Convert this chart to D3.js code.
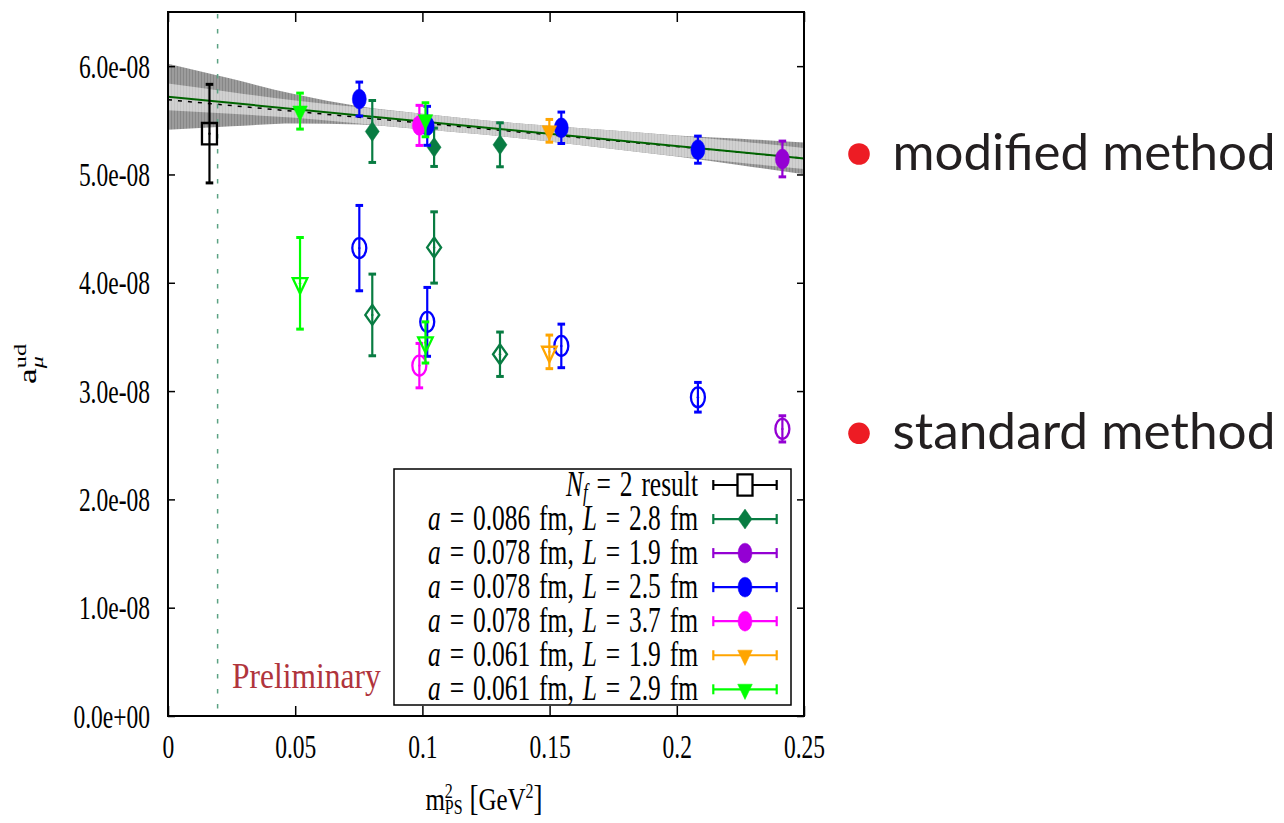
<!DOCTYPE html>
<html>
<head>
<meta charset="utf-8">
<script src="https://cdn.jsdelivr.net/npm/d3@7"></script>
<style>
  body { margin: 0; background: #fff; }
  svg { display: block; }
</style>
</head>
<body>
<script>
"use strict";

// a_mu^ud values in units of 1e-8, points are [m_PS^2, value, error]
const nf2_result   = [[0.0163, 5.377, 0.455]];

const a086_L28_mod = [[0.0803, 5.397, 0.286], [0.1046, 5.251, 0.177], [0.1305, 5.274, 0.203]];
const a086_L28_std = [[0.0803, 3.703, 0.377], [0.1046, 4.326, 0.329], [0.1305, 3.340, 0.205]];
const a078_L19_mod = [[0.2415, 5.143, 0.165]];
const a078_L19_std = [[0.2415, 2.651, 0.121]];
const a078_L25_mod = [[0.0752, 5.696, 0.157], [0.1019, 5.449, 0.180], [0.1546, 5.431, 0.145], [0.2083, 5.229, 0.125]];
const a078_L25_std = [[0.0752, 4.320, 0.394], [0.1019, 3.639, 0.318], [0.1546, 3.417, 0.201], [0.2083, 2.943, 0.137]];
const a078_L37_mod = [[0.0988, 5.453, 0.185]];
const a078_L37_std = [[0.0988, 3.235, 0.205]];
const a061_L19_mod = [[0.1499, 5.403, 0.105]];
const a061_L19_std = [[0.1499, 3.362, 0.155]];
const a061_L29_mod = [[0.0519, 5.585, 0.166], [0.1012, 5.505, 0.157]];
const a061_L29_std = [[0.0519, 3.995, 0.423], [0.1012, 3.449, 0.190]];

// chiral fit and its error bands
const fit_line   = [[0, 5.717], [0.25, 5.148]];
const fit_line_2 = [[0, 5.690], [0.25, 5.150]];
const band_x           = [0, 0.025, 0.05, 0.075, 0.1, 0.125, 0.15, 0.175, 0.2, 0.225, 0.25];
const band_outer_upper = [6.022, 5.883, 5.740, 5.630, 5.561, 5.498, 5.450, 5.405, 5.360, 5.330, 5.294];
const band_outer_lower = [5.412, 5.445, 5.470, 5.461, 5.417, 5.366, 5.305, 5.235, 5.165, 5.085, 5.002];
const band_inner_upper = [5.840, 5.760, 5.683, 5.620, 5.561, 5.498, 5.450, 5.405, 5.358, 5.305, 5.245];
const band_inner_lower = [5.594, 5.560, 5.523, 5.470, 5.417, 5.366, 5.305, 5.235, 5.167, 5.108, 5.051];
const physical_point = 0.0195;

const x_ticks = [0, 0.05, 0.1, 0.15, 0.2, 0.25];
const x_tick_labels = ["0", "0.05", "0.1", "0.15", "0.2", "0.25"];
const y_ticks = [0, 1, 2, 3, 4, 5, 6];
const y_tick_labels = ["0.0e+00", "1.0e-08", "2.0e-08", "3.0e-08", "4.0e-08", "5.0e-08", "6.0e-08"];

const legend_a = ["0.086", "0.078", "0.078", "0.078", "0.061", "0.061"];
const legend_L = ["2.8", "1.9", "2.5", "3.7", "1.9", "2.9"];
const method_labels = ["modified method", "standard method"];

// styles
const colors = ["#000000", "#087c42", "#9400d3", "#0000ff", "#ff00ff", "#ffa500", "#00ff00"];
const shapes = ["square", "diamond", "circle", "circle", "circle", "triangle", "triangle"];

const series = [
    { mod: nf2_result,   std: [] },
    { mod: a086_L28_mod, std: a086_L28_std },
    { mod: a078_L19_mod, std: a078_L19_std },
    { mod: a078_L25_mod, std: a078_L25_std },
    { mod: a078_L37_mod, std: a078_L37_std },
    { mod: a061_L19_mod, std: a061_L19_std },
    { mod: a061_L29_mod, std: a061_L29_std }
];

const W = 1284, H = 823;
const STRETCH = 1.42;
const serif = "'Liberation Serif', 'Times New Roman', serif";

const xScale = d3.scaleLinear().domain([0, 0.25]).range([168, 804]);
const yScale = d3.scaleLinear().domain([0, 6.5]).range([716, 12]);

const svg = d3.select("body").append("svg")
    .attr("width", W).attr("height", H);

// hatched fills of the bands
const defs = svg.append("defs");
function hatch (id, base, stripe) {
    let p = defs.append("pattern").attr("id", id)
        .attr("patternUnits", "userSpaceOnUse")
        .attr("width", 3).attr("height", 10);
    p.append("rect").attr("width", 3).attr("height", 10).attr("fill", base);
    p.append("rect").attr("width", 1).attr("height", 10).attr("fill", stripe);
}
hatch("darkHatch", "#9c9c9c", "#878787");
hatch("lightHatch", "#d0d0d0", "#c4c4c4");

const plot = svg.append("g");

let outerArea = d3.area()
    .x((d, i) => xScale(band_x[i]))
    .y0((d, i) => yScale(band_outer_lower[i]))
    .y1((d, i) => yScale(band_outer_upper[i]))
    .curve(d3.curveMonotoneX);
let innerArea = d3.area()
    .x((d, i) => xScale(band_x[i]))
    .y0((d, i) => yScale(band_inner_lower[i]))
    .y1((d, i) => yScale(band_inner_upper[i]))
    .curve(d3.curveMonotoneX);

plot.append("path").datum(band_x).attr("d", outerArea).attr("fill", "url(#darkHatch)");
plot.append("path").datum(band_x).attr("d", innerArea).attr("fill", "url(#lightHatch)");

let line = d3.line().x(d => xScale(d[0])).y(d => yScale(d[1]));
plot.append("path").datum(fit_line_2).attr("d", line)
    .attr("fill", "none").attr("stroke", "#000").attr("stroke-width", 1.5)
    .attr("stroke-dasharray", "4,6");
plot.append("path").datum(fit_line).attr("d", line)
    .attr("fill", "none").attr("stroke", "#006400").attr("stroke-width", 2);

// physical pion mass
plot.append("line")
    .attr("x1", xScale(physical_point)).attr("x2", xScale(physical_point))
    .attr("y1", yScale(6.5) + 2).attr("y2", yScale(0) - 2)
    .attr("stroke", "#5ba283").attr("stroke-width", 1.5)
    .attr("stroke-dasharray", "4.5,10.5");

// marker shapes, drawn unstretched and then scaled vertically
function shapePath (shape) {
    if (shape == "circle") return d3.symbol(d3.symbolCircle, Math.PI * 49)();
    if (shape == "diamond") return "M0,-7L7,0L0,7L-7,0Z";
    if (shape == "triangle") return "M-7.3,-3.6L7.3,-3.6L0,7.2Z";
    return "M-7.5,-7.5L7.5,-7.5L7.5,7.5L-7.5,7.5Z";
}

function drawPoints (g, data, color, shape, filled) {
    let grp = g.append("g");
    let pts = grp.selectAll("g.pt").data(data).enter().append("g").attr("class", "pt");
    pts.append("line")
        .attr("x1", d => xScale(d[0])).attr("x2", d => xScale(d[0]))
        .attr("y1", d => yScale(d[1] + d[2])).attr("y2", d => yScale(d[1] - d[2]))
        .attr("stroke", color).attr("stroke-width", 2.2);
    [1, -1].forEach(sign => {
        pts.append("line")
            .attr("x1", d => xScale(d[0]) - 3.8).attr("x2", d => xScale(d[0]) + 3.8)
            .attr("y1", d => yScale(d[1] + sign * d[2])).attr("y2", d => yScale(d[1] + sign * d[2]))
            .attr("stroke", color).attr("stroke-width", 3);
    });
    pts.append("path")
        .attr("d", shapePath(shape))
        .attr("transform", d => `translate(${xScale(d[0])},${yScale(d[1])}) scale(1,${STRETCH})`)
        .attr("fill", filled ? color : "none")
        .attr("stroke", color)
        .attr("stroke-width", filled ? 0.5 : 2.3)
        .attr("vector-effect", "non-scaling-stroke");
    if (!filled) {
        pts.append("circle")
            .attr("cx", d => xScale(d[0])).attr("cy", d => yScale(d[1]))
            .attr("r", 1.2).attr("fill", color);
    }
}

series.forEach((s, i) => {
    drawPoints(plot, s.std, colors[i], shapes[i], false);
    drawPoints(plot, s.mod, colors[i], shapes[i], i != 0);
});

// axes with inward ticks on all sides
function styleAxis (g) {
    g.select(".domain").remove();
    g.selectAll(".tick line").attr("stroke", "#000").attr("stroke-width", 1.5);
}

let xAxisBottom = svg.append("g").attr("transform", "translate(0,716)")
    .call(d3.axisBottom(xScale).tickValues(x_ticks).tickSizeInner(-10).tickSizeOuter(0)
        .tickFormat((d, i) => x_tick_labels[i]));
styleAxis(xAxisBottom);
xAxisBottom.selectAll(".tick text")
    .attr("font-family", serif).attr("font-size", 23.5).attr("fill", "#000")
    .attr("y", 42 / STRETCH).attr("dy", 0)
    .attr("transform", `scale(1,${STRETCH})`);

let xAxisTop = svg.append("g").attr("transform", "translate(0,12)")
    .call(d3.axisTop(xScale).tickValues(x_ticks).tickSizeInner(-10).tickSizeOuter(0).tickFormat(""));
styleAxis(xAxisTop);

let yAxisLeft = svg.append("g").attr("transform", "translate(168,0)")
    .call(d3.axisLeft(yScale).tickValues(y_ticks).tickSizeInner(-7).tickSizeOuter(0)
        .tickPadding(18).tickFormat((d, i) => y_tick_labels[i]));
styleAxis(yAxisLeft);
yAxisLeft.selectAll(".tick text")
    .attr("font-family", serif).attr("font-size", 23.5).attr("fill", "#000")
    .attr("y", 7.8).attr("dy", 0)
    .attr("transform", `scale(1,${STRETCH})`);

let yAxisRight = svg.append("g").attr("transform", "translate(804,0)")
    .call(d3.axisRight(yScale).tickValues(y_ticks).tickSizeInner(-7).tickSizeOuter(0).tickFormat(""));
styleAxis(yAxisRight);

svg.append("rect")
    .attr("x", 168).attr("y", 12).attr("width", 636).attr("height", 704)
    .attr("fill", "none").attr("stroke", "#000").attr("stroke-width", 2);

// axis titles
let xTitle = svg.append("g").attr("transform", `translate(484,810) scale(1,1.3)`)
    .append("text").attr("text-anchor", "middle")
    .attr("font-family", serif).attr("font-size", 25);
xTitle.append("tspan").text("m");
xTitle.append("tspan").attr("font-size", 16).attr("dy", -9).text("2");
xTitle.append("tspan").attr("font-size", 16).attr("dx", -8).attr("dy", 12).text("PS");
xTitle.append("tspan").attr("dy", -3).attr("font-size", 27).text(" [");
xTitle.append("tspan").text("GeV");
xTitle.append("tspan").attr("font-size", 16).attr("dy", -9).text("2");
xTitle.append("tspan").attr("dy", 9).attr("font-size", 27).text("]");

let yTitle = svg.append("g").attr("transform", `translate(36,364) rotate(-90) scale(${STRETCH},1)`)
    .append("text").attr("text-anchor", "middle")
    .attr("font-family", serif).attr("font-size", 25);
yTitle.append("tspan").text("a");
yTitle.append("tspan").attr("font-size", 17).attr("dy", -10).text("ud");
yTitle.append("tspan").attr("font-size", 17).attr("font-style", "italic")
    .attr("dx", -17).attr("dy", 17).text("μ");

svg.append("g").attr("transform", `translate(232,688) scale(1,1.12)`)
    .append("text")
    .attr("font-family", serif).attr("font-size", 31.5)
    .attr("fill", "#b0343c")
    .text("Preliminary");

// legend
const legend = svg.append("g");
legend.append("rect")
    .attr("x", 394).attr("y", 469).attr("width", 397).attr("height", 236)
    .attr("fill", "#fff").attr("stroke", "#000").attr("stroke-width", 1.5);

colors.forEach((color, i) => {
    let cy = 485 + i * 34.05;
    let t = legend.append("g").attr("transform", `translate(698,${cy + 10.6}) scale(1,${STRETCH})`)
        .append("text").attr("text-anchor", "end")
        .attr("font-family", serif).attr("font-size", 25.5)
        .attr("word-spacing", 2.5);
    if (i == 0) {
        t.append("tspan").attr("font-style", "italic").text("N");
        t.append("tspan").attr("font-style", "italic").attr("font-size", 17).attr("dy", 4).text("f");
        t.append("tspan").attr("dy", -4).text(" = 2 result");
    } else {
        t.append("tspan").attr("font-style", "italic").text("a");
        t.append("tspan").text(` = ${legend_a[i - 1]} fm, `);
        t.append("tspan").attr("font-style", "italic").text("L");
        t.append("tspan").text(` = ${legend_L[i - 1]} fm`);
    }
    legend.append("line").attr("x1", 713.3).attr("x2", 776.7).attr("y1", cy).attr("y2", cy)
        .attr("stroke", color).attr("stroke-width", 2.2);
    [713.3, 776.7].forEach(x => {
        legend.append("line").attr("x1", x).attr("x2", x).attr("y1", cy - 5).attr("y2", cy + 5)
            .attr("stroke", color).attr("stroke-width", 2.2);
    });
    legend.append("path")
        .attr("d", shapePath(shapes[i]))
        .attr("transform", `translate(745,${cy}) scale(1,${STRETCH})`)
        .attr("fill", i == 0 ? "#fff" : color)
        .attr("stroke", color).attr("stroke-width", i == 0 ? 2.3 : 0.5)
        .attr("vector-effect", "non-scaling-stroke");
});

// slide annotations
const notes = svg.append("g");
const note_y = [154, 433.3];
method_labels.forEach((label, i) => {
    notes.append("circle").attr("cx", 859).attr("cy", note_y[i]).attr("r", 10.8).attr("fill", "#ed1c24");
    notes.append("text")
        .attr("x", 892.5).attr("y", note_y[i] + 15.5)
        .attr("font-family", "Lato, 'Open Sans', sans-serif").attr("font-size", 50)
        .attr("fill", "#231f20")
        .attr("textLength", 383).attr("lengthAdjust", "spacingAndGlyphs")
        .text(label);
});
</script>
</body>
</html>
